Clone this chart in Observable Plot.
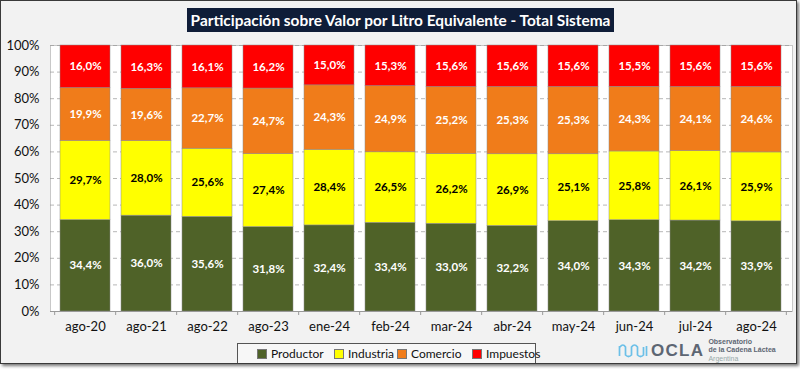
<!DOCTYPE html>
<html><head><meta charset="utf-8">
<script src="https://cdn.jsdelivr.net/npm/d3@7"></script>
<script src="https://cdn.jsdelivr.net/npm/@observablehq/plot@0.6"></script>
<style>
html,body{margin:0;padding:0;background:#fff;}
#frame{position:absolute;left:0;top:0;width:795px;height:362px;background:#f2f2f2;border:1px solid #3a3a3a;box-shadow:2px 2px 3px #777;font-family:Lato,"Open Sans",sans-serif;overflow:hidden;}
#title{position:absolute;left:186px;top:7px;width:427px;height:24px;background:#0f1d38;color:#fff;font-weight:bold;font-size:15.4px;line-height:24px;text-align:center;white-space:nowrap;}
#chart{position:absolute;left:0;top:36px;}
#legend{position:absolute;left:236px;top:342px;width:299px;height:21px;border:1px solid #555;background:#f7f7f7;font-size:12px;color:#111;box-sizing:border-box;}
#legend .it{position:absolute;top:2px;white-space:nowrap;}
#legend span.sw{display:inline-block;width:8px;height:8px;border:1px solid #777;margin-right:4px;vertical-align:-1px;}
#logo{position:absolute;left:617px;top:336px;height:27px;display:flex;align-items:center;}
#logo .small{font-family:'Liberation Sans',Arial,sans-serif;font-size:7px;line-height:8.6px;color:#5d6673;margin-left:4px;font-weight:bold;white-space:nowrap;}
</style></head>
<body>
<div id="frame">
  <div id="title">Participación sobre Valor por Litro Equivalente - Total Sistema</div>
  <div id="chart"></div>
  <div id="legend"></div>
  <div id="logo">
    <svg width="30" height="15" viewBox="0 0 30 15"><path d="M1.5 3 V13 M2 4 Q5 0 7.5 4 V12 Q10.5 15 13.5 12 V4 Q16.5 0 19.5 4 V12 Q22.5 15 25.5 12 V4 M28.5 3 V13" fill="none" stroke="#6cc0e8" stroke-width="1.7"/></svg>
    <span style="font-family:'Liberation Sans',Arial,sans-serif;font-weight:bold;font-size:17px;color:#5d6673;margin-left:3px;letter-spacing:1.3px;">OCLA</span>
    <div class="small"><div>Observatorio</div><div>de la Cadena Láctea</div><div style="color:#9aa;font-weight:normal">Argentina</div></div>
  </div>
</div>
<script>
const periods = ["ago-20","ago-21","ago-22","ago-23","ene-24","feb-24","mar-24","abr-24","may-24","jun-24","jul-24","ago-24"];
const series = ["Productor","Industria","Comercio","Impuestos"];
const colors = ["#4f6228","#ffff00","#f07c1a","#ff0000"];
const labelColors = ["#ffffff","#000000","#ffffff","#ffffff"];
const productor = [34.4,36.0,35.6,31.8,32.4,33.4,33.0,32.2,34.0,34.3,34.2,33.9];
const industria = [29.7,28.0,25.6,27.4,28.4,26.5,26.2,26.9,25.1,25.8,26.1,25.9];
const comercio  = [19.9,19.6,22.7,24.7,24.3,24.9,25.2,25.3,25.3,24.3,24.1,24.6];
const impuestos = [16.0,16.3,16.1,16.2,15.0,15.3,15.6,15.6,15.6,15.5,15.6,15.6];
const yTicks = [0,0.1,0.2,0.3,0.4,0.5,0.6,0.7,0.8,0.9,1];

const valueArrays = [productor, industria, comercio, impuestos];
const data = [];
series.forEach((s, si) => periods.forEach((p, pi) => data.push({
  period: p, serie: s, value: valueArrays[si][pi],
  label: valueArrays[si][pi].toFixed(1).replace(".", ",") + "%"
})));

const chart = Plot.plot({
  width: 794, height: 305,
  marginLeft: 49, marginRight: 3, marginTop: 8, marginBottom: 31,
  style: {fontFamily: "Lato, 'Open Sans', sans-serif", fontSize: "13px", background: "transparent", color: "#111"},
  x: {domain: periods, paddingInner: 0.175, paddingOuter: 0.08, label: null, tickSize: 0, tickPadding: 10},
  y: {domain: [0, 1], ticks: yTicks, tickFormat: d3.format(".0%"), label: null, tickSize: 0, tickPadding: 11},
  color: {domain: series, range: colors},
  marks: [
    Plot.frame({fill: "white", stroke: "#c8c8c8"}),
    Plot.gridY(yTicks, {stroke: "#999", strokeOpacity: 0.7, strokeDasharray: "4,3"}),
    Plot.barY(data, Plot.stackY({x: "period", y: "value", fill: "serie", order: series, offset: "normalize", stroke: "#8a8a8a", strokeWidth: 0.5})),
    Plot.text(data, Plot.stackY({x: "period", y: "value", z: "serie", order: series, offset: "normalize", text: "label",
      fill: d => labelColors[series.indexOf(d.serie)], fontWeight: "bold", fontSize: 11.5})),
    Plot.ruleY([0], {stroke: "#999"})
  ]
});
// category boundary tick marks below the x axis, derived from the band scale
const xs = chart.scale("x"), ys = chart.scale("y");
const sc = xs.apply;
const step = xs.step !== undefined ? xs.step : (sc(periods[1]) - sc(periods[0]));
const half = step * xs.paddingInner / 2;
const y0 = ys.apply(0);
const g = d3.select(chart).append("g").attr("stroke", "#999");
const bounds = periods.map(p => sc(p) - half);
bounds.push(sc(periods[periods.length - 1]) + xs.bandwidth + half);
bounds.forEach(b => g.append("line").attr("x1", b).attr("x2", b).attr("y1", y0).attr("y2", y0 + 4));
document.getElementById("chart").appendChild(chart);

const lg = document.getElementById("legend");
const legendLeft = [19, 96, 159, 234];
series.forEach((s, i) => {
  const d = document.createElement("div");
  d.className = "it";
  d.style.left = legendLeft[i] + "px";
  d.innerHTML = `<span class="sw" style="background:${colors[i]}"></span>${s}`;
  lg.appendChild(d);
});
</script>
</body></html>
